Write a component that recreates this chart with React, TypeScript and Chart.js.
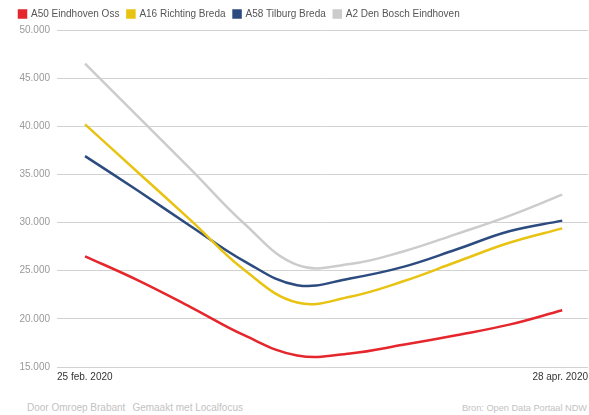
import React, { useEffect, useRef } from "react";
import { Chart, registerables } from "chart.js";

Chart.register(...registerables);

// ---- data ----
const days = [0, 7, 14, 21, 28, 35, 42, 49, 56, 63];
const seriesNames = [
  "A50 Eindhoven Oss",
  "A16 Richting Breda",
  "A58 Tilburg Breda",
  "A2 Den Bosch Eindhoven",
];
const a50Values = [26500, 24000, 21200, 18300, 16200, 16400, 17300, 18300, 19400, 20900];
const a16Values = [40200, 35200, 30200, 25100, 21700, 22300, 23900, 25900, 27900, 29400];
const a58Values = [36900, 33300, 29600, 26000, 23500, 24200, 25400, 27200, 29100, 30200];
const a2Values = [46500, 41000, 35500, 29900, 25600, 25700, 27000, 28800, 30700, 32900];
const xTickLabels = ["25 feb. 2020", "28 apr. 2020"];
const yMin = 15000;
const yMax = 50000;
const yStep = 5000;

const colors = ["#e5262d", "#e8c312", "#2c4b7f", "#cccccc"];
const FONT = "'Liberation Sans', Arial, Helvetica, sans-serif";

function fmt(v: number) {
  return String(v).replace(/\B(?=(\d{3})+(?!\d))/g, ".");
}

const legendSpacing = {
  id: "legendSpacing",
  beforeInit(chart: any) {
    const legend = chart.legend;
    if (!legend) return;
    const origFit = legend.fit;
    legend.fit = function () {
      origFit.call(this);
      this.height += 1;
    };
  },
};

export default function App() {
  const ref = useRef<HTMLCanvasElement | null>(null);

  useEffect(() => {
    if (!ref.current) return;
    const allValues = [a50Values, a16Values, a58Values, a2Values];
    const chart = new Chart(ref.current, {
      type: "line",
      plugins: [legendSpacing],
      data: {
        datasets: seriesNames.map((name, i) => ({
          label: name,
          data: days.map((d, j) => ({ x: d, y: allValues[i][j] })),
          borderColor: colors[i],
          backgroundColor: colors[i],
          borderWidth: 2.5,
          pointRadius: 0,
          pointHoverRadius: 0,
          tension: 0.4,
          fill: false,
        })),
      },
      options: {
        animation: false,
        responsive: false,
        maintainAspectRatio: false,
        events: [],
        layout: { padding: { left: 11, right: 0, top: 1, bottom: 4 } },
        plugins: {
          legend: {
            display: true,
            position: "top",
            align: "start",
            labels: {
              boxWidth: 7,
              boxHeight: 7,
              padding: 8,
              color: "#555555",
              font: { family: FONT, size: 10 },
            },
          },
          tooltip: { enabled: false },
        },
        scales: {
          x: {
            type: "linear",
            min: -3.7,
            max: 66.4,
            grid: { display: false, drawTicks: false, tickLength: 0 },
            border: { display: false },
            afterBuildTicks: (axis: any) => {
              axis.ticks = [{ value: axis.min }, { value: axis.max }];
            },
            ticks: {
              autoSkip: false,
              maxRotation: 0,
              align: "inner",
              padding: 4,
              color: "#333333",
              font: { family: FONT, size: 10 },
              callback: (_v: any, i: number) => xTickLabels[i],
            },
          },
          y: {
            min: yMin,
            max: yMax,
            afterFit: (scale: any) => {
              scale.width = 46;
            },
            grid: { color: "#d2d2d2", lineWidth: 1, drawTicks: false },
            border: { display: false },
            ticks: {
              stepSize: yStep,
              padding: 7,
              color: "#999999",
              font: { family: FONT, size: 10 },
              callback: (v: any) => fmt(Number(v)),
            },
          },
        },
      },
    });
    return () => chart.destroy();
  }, []);

  const footStyle: React.CSSProperties = {
    position: "absolute",
    top: 402,
    fontFamily: FONT,
    fontSize: 10,
    color: "#c2c2c2",
    whiteSpace: "nowrap",
    lineHeight: "12px",
  };

  return (
    <div style={{ position: "fixed", left: 0, top: 0, width: 589, height: 415, background: "#fff", overflow: "hidden" }}>
      <canvas ref={ref} width={592} height={391} style={{ position: "absolute", left: 0, top: 0 }} />
      <div style={{ ...footStyle, left: 27 }}>
        <span>Door Omroep Brabant</span>
        <span style={{ marginLeft: 7 }}>Gemaakt met Localfocus</span>
      </div>
      <div style={{ ...footStyle, right: 2, fontSize: 9.2 }}>Bron: Open Data Portaal NDW</div>
    </div>
  );
}
